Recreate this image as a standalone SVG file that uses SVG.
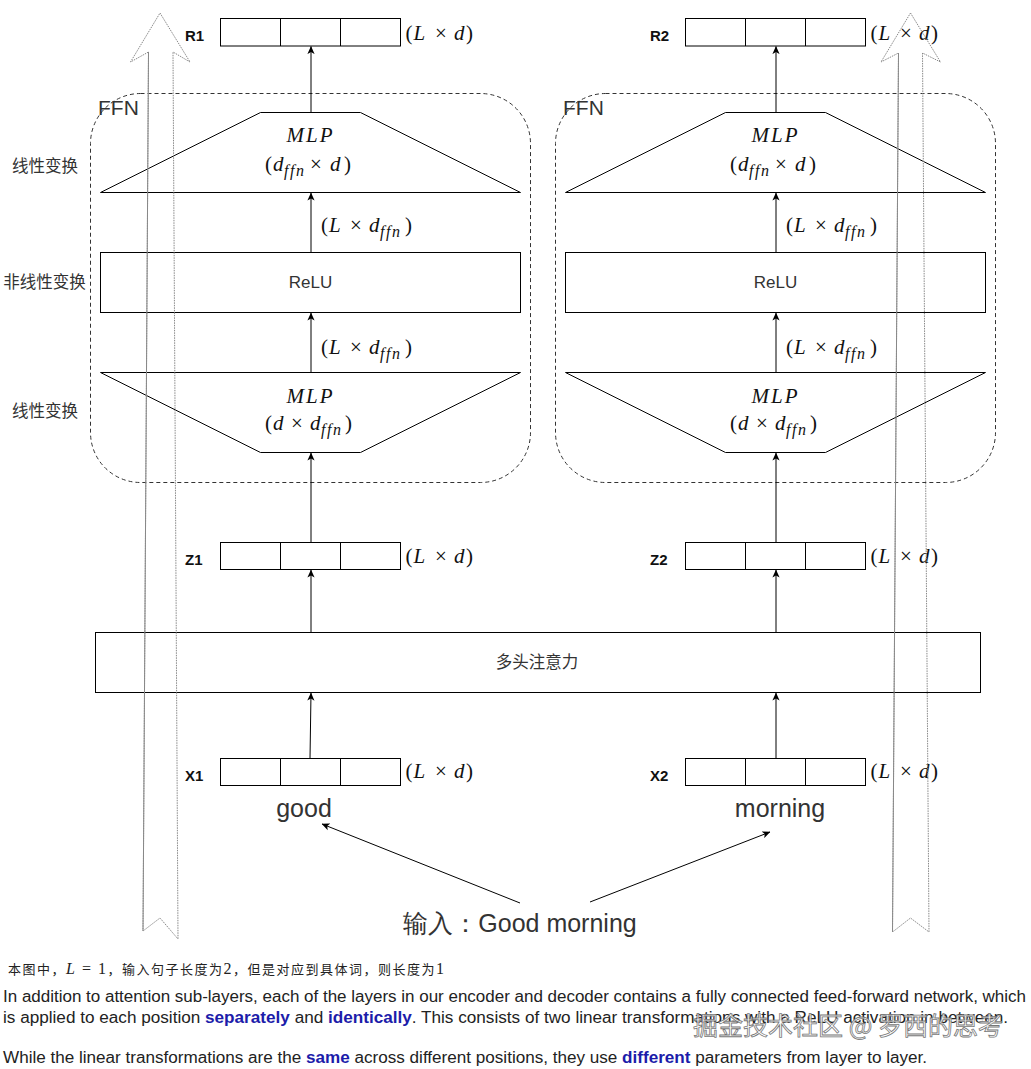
<svg xmlns="http://www.w3.org/2000/svg" width="1031" height="1069" viewBox="0 0 1031 1069">
<style>
.ln{stroke:#000;stroke-width:1;fill:none}
.bx{stroke:#000;stroke-width:1;fill:#fff}
.ffn{stroke:#333;stroke-width:1;fill:none;stroke-dasharray:4 3}
.lab{font-family:"Liberation Sans",Arial,sans-serif;font-weight:bold;font-size:15px;fill:#111}
.m{font-family:"Liberation Serif","Times New Roman",serif;font-size:21px;fill:#111}
.mi{font-style:italic}
.sub{font-size:16px;font-style:italic;letter-spacing:1.5px}
.cn{font-family:"Liberation Sans","Noto Sans CJK SC",sans-serif;font-size:16.5px;fill:#333}
.tx{font-family:"Liberation Sans",Arial,sans-serif;fill:#333}
.ha{stroke:#888;stroke-width:1;fill:none;stroke-dasharray:1.5 1}
.para{font-family:"Liberation Sans",Arial,sans-serif;font-size:16px;fill:#222}
.b{font-weight:bold;fill:#1c1caa}
</style>
<defs>
<marker id="ah" viewBox="0 0 10 10" refX="9.5" refY="5" markerWidth="8" markerHeight="8" orient="auto" markerUnits="userSpaceOnUse"><path d="M0,0.5 L10,5 L0,9.5 L2.5,5 z" fill="#000"/></marker>
</defs>
<rect width="1031" height="1069" fill="#fff"/>

<g id="side-labels">
<text class="cn" x="45" y="172" text-anchor="middle">线性变换</text>
<text class="cn" x="44.5" y="288" text-anchor="middle">非线性变换</text>
<text class="cn" x="45" y="417" text-anchor="middle">线性变换</text>
</g>

<!-- left column -->
<g id="ffn1">
<rect class="ffn" x="90.5" y="93.5" width="440" height="389" rx="50" ry="50"/>
<text class="tx" x="98" y="115" font-size="21">FFN</text>
</g>
<g id="mlp1-up">
<polygon class="bx" points="260.5,112.5 360.5,112.5 520.5,192.5 100.5,192.5"/>
<text class="m mi" x="310.5" y="142" text-anchor="middle" font-size="22" letter-spacing="2">MLP</text>
<text class="m" y="171"><tspan x="265">(</tspan><tspan x="273" class="mi">d</tspan><tspan x="284" dy="5" class="sub">ffn</tspan><tspan x="310" dy="-5">×</tspan><tspan x="330" class="mi">d</tspan><tspan x="344">)</tspan></text>
</g>
<g id="relu1">
<rect class="bx" x="100.5" y="252.5" width="420" height="60"/>
<text class="tx" x="310.5" y="288" font-size="17" text-anchor="middle">ReLU</text>
</g>
<g id="mlp1-down">
<polygon class="bx" points="100.5,372.5 520.5,372.5 360.5,452.5 260.5,452.5"/>
<text class="m mi" x="310.5" y="403" text-anchor="middle" font-size="22" letter-spacing="2">MLP</text>
<text class="m" y="430"><tspan x="265">(</tspan><tspan x="273" class="mi">d</tspan><tspan x="291">×</tspan><tspan x="310" class="mi">d</tspan><tspan x="321" dy="5" class="sub">ffn</tspan><tspan x="345" dy="-5">)</tspan></text>
</g>
<g id="dim1">
<text class="m" y="232"><tspan x="321">(</tspan><tspan x="329" class="mi">L</tspan><tspan x="350">×</tspan><tspan x="369" class="mi">d</tspan><tspan x="380" dy="5" class="sub">ffn</tspan><tspan x="405" dy="-5">)</tspan></text>
<text class="m" y="354"><tspan x="321">(</tspan><tspan x="329" class="mi">L</tspan><tspan x="350">×</tspan><tspan x="369" class="mi">d</tspan><tspan x="380" dy="5" class="sub">ffn</tspan><tspan x="405" dy="-5">)</tspan></text>
</g>
<g id="R1">
<rect class="bx" x="220.5" y="18.5" width="180" height="27.5"/>
<path class="ln" d="M280.5,18.5 V46 M340.5,18.5 V46"/>
<text class="lab" x="185" y="41">R1</text>
<text class="m" y="39.5"><tspan x="405.5">(</tspan><tspan x="413.5" class="mi">L</tspan><tspan x="435">×</tspan><tspan x="454" class="mi">d</tspan><tspan x="466">)</tspan></text>
</g>
<g id="Z1">
<rect class="bx" x="220.5" y="542.5" width="180" height="27"/>
<path class="ln" d="M280.5,542.5 V569.5 M340.5,542.5 V569.5"/>
<text class="lab" x="185" y="565">Z1</text>
<text class="m" y="563"><tspan x="405.5">(</tspan><tspan x="413.5" class="mi">L</tspan><tspan x="435">×</tspan><tspan x="454" class="mi">d</tspan><tspan x="466">)</tspan></text>
</g>
<g id="X1">
<rect class="bx" x="220.5" y="758.5" width="180" height="27" stroke="#444"/>
<path class="ln" d="M280.5,758.5 V785.5 M340.5,758.5 V785.5"/>
<text class="lab" x="185" y="781">X1</text>
<text class="m" y="778"><tspan x="405.5">(</tspan><tspan x="413.5" class="mi">L</tspan><tspan x="435">×</tspan><tspan x="454" class="mi">d</tspan><tspan x="466">)</tspan></text>
<text class="tx" x="304" y="817" font-size="25" fill="#444" text-anchor="middle">good</text>
</g>

<!-- right column -->
<g id="ffn2">
<rect class="ffn" x="555.5" y="93.5" width="440" height="389" rx="50" ry="50"/>
<text class="tx" x="563" y="115" font-size="21">FFN</text>
</g>
<g id="mlp2-up">
<polygon class="bx" points="725.5,112.5 825.5,112.5 985.5,192.5 565.5,192.5"/>
<text class="m mi" x="775.5" y="142" text-anchor="middle" font-size="22" letter-spacing="2">MLP</text>
<text class="m" y="171"><tspan x="730">(</tspan><tspan x="738" class="mi">d</tspan><tspan x="749" dy="5" class="sub">ffn</tspan><tspan x="775" dy="-5">×</tspan><tspan x="795" class="mi">d</tspan><tspan x="809">)</tspan></text>
</g>
<g id="relu2">
<rect class="bx" x="565.5" y="252.5" width="420" height="60"/>
<text class="tx" x="775.5" y="288" font-size="17" text-anchor="middle">ReLU</text>
</g>
<g id="mlp2-down">
<polygon class="bx" points="565.5,372.5 985.5,372.5 825.5,452.5 725.5,452.5"/>
<text class="m mi" x="775.5" y="403" text-anchor="middle" font-size="22" letter-spacing="2">MLP</text>
<text class="m" y="430"><tspan x="730">(</tspan><tspan x="738" class="mi">d</tspan><tspan x="756">×</tspan><tspan x="775" class="mi">d</tspan><tspan x="786" dy="5" class="sub">ffn</tspan><tspan x="810" dy="-5">)</tspan></text>
</g>
<g id="dim2">
<text class="m" y="232"><tspan x="786">(</tspan><tspan x="794" class="mi">L</tspan><tspan x="815">×</tspan><tspan x="834" class="mi">d</tspan><tspan x="845" dy="5" class="sub">ffn</tspan><tspan x="870" dy="-5">)</tspan></text>
<text class="m" y="354"><tspan x="786">(</tspan><tspan x="794" class="mi">L</tspan><tspan x="815">×</tspan><tspan x="834" class="mi">d</tspan><tspan x="845" dy="5" class="sub">ffn</tspan><tspan x="870" dy="-5">)</tspan></text>
</g>
<g id="R2">
<rect class="bx" x="685.5" y="18.5" width="180" height="27.5"/>
<path class="ln" d="M745.5,18.5 V46 M805.5,18.5 V46"/>
<text class="lab" x="650" y="41">R2</text>
<text class="m" y="39.5"><tspan x="870.5">(</tspan><tspan x="878.5" class="mi">L</tspan><tspan x="900">×</tspan><tspan x="919" class="mi">d</tspan><tspan x="931">)</tspan></text>
</g>
<g id="Z2">
<rect class="bx" x="685.5" y="542.5" width="180" height="27"/>
<path class="ln" d="M745.5,542.5 V569.5 M805.5,542.5 V569.5"/>
<text class="lab" x="650" y="565">Z2</text>
<text class="m" y="563"><tspan x="870.5">(</tspan><tspan x="878.5" class="mi">L</tspan><tspan x="900">×</tspan><tspan x="919" class="mi">d</tspan><tspan x="931">)</tspan></text>
</g>
<g id="X2">
<rect class="bx" x="685.5" y="758.5" width="180" height="27" stroke="#444"/>
<path class="ln" d="M745.5,758.5 V785.5 M805.5,758.5 V785.5"/>
<text class="lab" x="650" y="781">X2</text>
<text class="m" y="778"><tspan x="870.5">(</tspan><tspan x="878.5" class="mi">L</tspan><tspan x="900">×</tspan><tspan x="919" class="mi">d</tspan><tspan x="931">)</tspan></text>
<text class="tx" x="780" y="817" font-size="25" fill="#444" text-anchor="middle">morning</text>
</g>

<g id="attention">
<rect class="bx" x="95.5" y="632.5" width="885" height="60"/>
<text class="cn" x="537" y="668" font-size="16" text-anchor="middle">多头注意力</text>
</g>

<g id="input">
<text class="tx" x="520" y="932" font-size="25" fill="#444" text-anchor="middle" font-family="Liberation Sans, Noto Sans CJK SC, sans-serif">输入：Good morning</text>
</g>

<g id="connectors" class="ln" marker-end="url(#ah)">
<line x1="310" y1="758.5" x2="311" y2="693"/>
<line x1="311" y1="632.5" x2="311" y2="570"/>
<line x1="311" y1="542.5" x2="311" y2="453"/>
<line x1="311" y1="372.5" x2="311" y2="313"/>
<line x1="311" y1="252.5" x2="311" y2="193"/>
<line x1="311" y1="112.5" x2="311" y2="46.5"/>
<line x1="776" y1="758.5" x2="776" y2="693"/>
<line x1="776" y1="632.5" x2="776" y2="570"/>
<line x1="776" y1="542.5" x2="776" y2="453"/>
<line x1="776" y1="372.5" x2="776" y2="313"/>
<line x1="776" y1="252.5" x2="776" y2="193"/>
<line x1="776" y1="112.5" x2="776" y2="46.5"/>
<line x1="520" y1="903" x2="322" y2="824"/>
<line x1="590" y1="902" x2="770" y2="832"/>
</g>

<g id="hollow-left">
<polygon class="ha" points="160,13 190,62 173,52 178,939 160,918 143,931 148.5,52 130.5,62"/>
<line x1="148.5" y1="52" x2="143" y2="931" stroke="#888" stroke-width="1"/>
</g>
<g id="hollow-right">
<polygon class="ha" points="910.5,13 940.5,62 922.5,53 929,932 910.5,918 892.5,932 898.5,53 881,62"/>
<line x1="898.5" y1="53" x2="892.5" y2="932" stroke="#888" stroke-width="1"/>
</g>

<g id="notes">
<text x="8" y="974" font-family="Liberation Sans, Noto Sans CJK SC, sans-serif" font-size="13" letter-spacing="1.5" fill="#222">本图中，<tspan font-family="Liberation Serif, serif" font-size="16" font-style="italic">L</tspan><tspan font-family="Liberation Serif, serif" font-size="16"> = 1</tspan>，输入句子长度为<tspan font-family="Liberation Serif, serif" font-size="16">2</tspan>，但是对应到具体词，则长度为<tspan font-family="Liberation Serif, serif" font-size="16">1</tspan></text>
<text class="para" x="3" y="1002" textLength="1023" lengthAdjust="spacingAndGlyphs">In addition to attention sub-layers, each of the layers in our encoder and decoder contains a fully connected feed-forward network, which</text>
<text class="para" x="3" y="1023" textLength="1005" lengthAdjust="spacingAndGlyphs">is applied to each position <tspan class="b">separately</tspan> and <tspan class="b">identically</tspan>. This consists of two linear transformations with a ReLU activation in between.</text>
<text class="para" x="3" y="1063" textLength="924" lengthAdjust="spacingAndGlyphs">While the linear transformations are the <tspan class="b">same</tspan> across different positions, they use <tspan class="b">different</tspan> parameters from layer to layer.</text>
<text x="848" y="1035" text-anchor="middle" font-family="Noto Sans CJK SC, sans-serif" font-size="25" fill="#fff" fill-opacity="0.85" stroke="#777" stroke-width="0.8">掘金技术社区 @ 罗西的思考</text>
</g>
</svg>
